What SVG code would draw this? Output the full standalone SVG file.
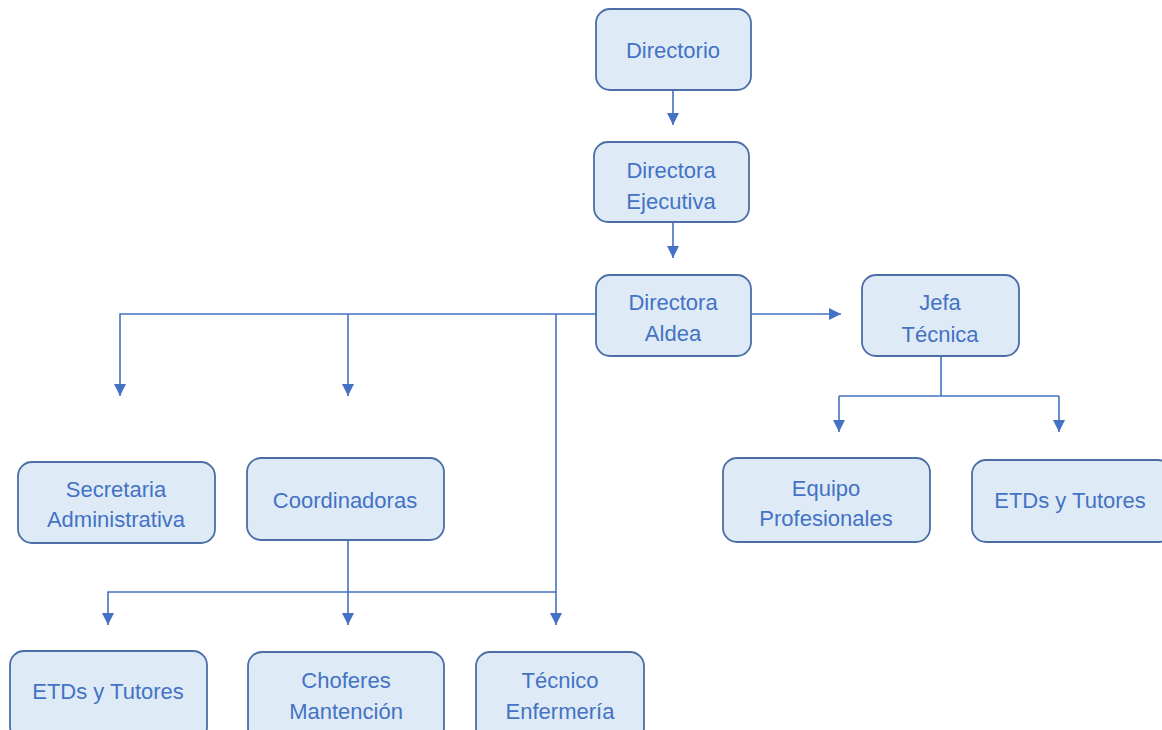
<svg xmlns="http://www.w3.org/2000/svg" width="1162" height="730" viewBox="0 0 1162 730">
<defs>
<marker id="ah" markerWidth="13" markerHeight="13" refX="12" refY="6" orient="auto" markerUnits="userSpaceOnUse">
<path d="M0,0 L12,6 L0,12 z" fill="#4472C4"/>
</marker>
<style>
.box{fill:#DEEBF7;stroke:#4A6EA5;stroke-width:1.8}
.t{font-family:"Liberation Sans",Arial,sans-serif;font-size:22px;fill:#4472C4;text-anchor:middle}
.c{fill:none;stroke:#4472C4;stroke-width:1.6}
</style>
</defs>
<rect width="1162" height="730" fill="#ffffff"/>
<g id="connectors">
<path class="c" d="M673,91 V125" marker-end="url(#ah)"/>
<path class="c" d="M673,223 V258" marker-end="url(#ah)"/>
<path class="c" d="M752,314 H841" marker-end="url(#ah)"/>
<path class="c" d="M596,314 H120 V396" marker-end="url(#ah)"/>
<path class="c" d="M348,314 V396" marker-end="url(#ah)"/>
<path class="c" d="M556,314 V625" marker-end="url(#ah)"/>
<path class="c" d="M348,541 V625" marker-end="url(#ah)"/>
<path class="c" d="M556,592 H108 V625" marker-end="url(#ah)"/>
<path class="c" d="M941,357 V396"/>
<path class="c" d="M839,396 H1059"/>
<path class="c" d="M839,396 V432" marker-end="url(#ah)"/>
<path class="c" d="M1059,396 V432" marker-end="url(#ah)"/>
</g>
<g id="directorio"><rect class="box" x="596" y="9" width="155" height="81" rx="14"/><text class="t" x="673" y="58">Directorio</text></g>
<g id="directora-ejecutiva"><rect class="box" x="594" y="142" width="155" height="80" rx="14"/><text class="t" x="671" y="178">Directora</text><text class="t" x="671" y="209">Ejecutiva</text></g>
<g id="directora-aldea"><rect class="box" x="596" y="275" width="155" height="81" rx="14"/><text class="t" x="673" y="310">Directora</text><text class="t" x="673" y="341">Aldea</text></g>
<g id="jefa-tecnica"><rect class="box" x="862" y="275" width="157" height="81" rx="14"/><text class="t" x="940" y="310">Jefa</text><text class="t" x="940" y="342">Técnica</text></g>
<g id="secretaria"><rect class="box" x="18" y="462" width="197" height="81" rx="14"/><text class="t" x="116" y="497">Secretaria</text><text class="t" x="116" y="527">Administrativa</text></g>
<g id="coordinadoras"><rect class="box" x="247" y="458" width="197" height="82" rx="14"/><text class="t" x="345" y="508">Coordinadoras</text></g>
<g id="equipo-profesionales"><rect class="box" x="723" y="458" width="207" height="84" rx="14"/><text class="t" x="826" y="496">Equipo</text><text class="t" x="826" y="526">Profesionales</text></g>
<g id="etds-tutores-1"><rect class="box" x="972" y="460" width="200" height="82" rx="14"/><text class="t" x="1070" y="508">ETDs y Tutores</text></g>
<g id="etds-tutores-2"><rect class="box" x="10" y="651" width="197" height="90" rx="14"/><text class="t" x="108" y="699">ETDs y Tutores</text></g>
<g id="choferes"><rect class="box" x="248" y="652" width="196" height="90" rx="14"/><text class="t" x="346" y="688">Choferes</text><text class="t" x="346" y="719">Mantención</text></g>
<g id="tecnico-enfermeria"><rect class="box" x="476" y="652" width="168" height="90" rx="14"/><text class="t" x="560" y="688">Técnico</text><text class="t" x="560" y="719">Enfermería</text></g>
</svg>
